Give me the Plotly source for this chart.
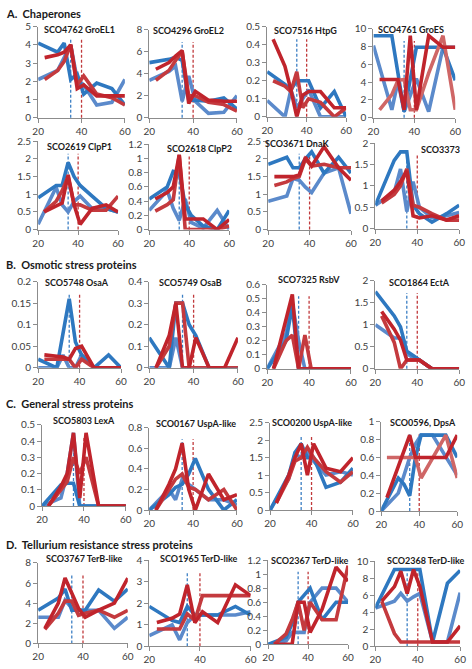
import plotly.graph_objects as go

W, H = 472, 669

# ---------------- data ----------------
XB = [20, 29, 32, 35, 38, 41, 47, 54, 60]
XR = [23, 29, 32, 35, 38, 41, 47, 54, 60]
SHIFT_BLUE = 35
SHIFT_RED = 40

SECTIONS = ["A.  Chaperones", "B.  Osmotic stress proteins",
            "C.  General stress proteins", "D.  Tellurium resistance stress proteins"]

TITLES = ["SCO4762 GroEL1", "SCO4296 GroEL2", "SCO7516 HtpG", "SCO4761 GroES",
          "SCO2619 ClpP1", "SCO2618 ClpP2", "SCO3671 DnaK", "SCO3373",
          "SCO5748 OsaA", "SCO5749 OsaB", "SCO7325 RsbV", "SCO1864 EctA",
          "SCO5803 LexA", "SCO0167 UspA-like", "SCO0200 UspA-like", "SCO0596, DpsA",
          "SCO3767 TerB-like", "SCO1965 TerD-like", "SCO2367 TerD-like", "SCO2368 TerD-like"]
YMAX = [5, 8, 0.5, 10, 2.5, 1.2, 2.5, 2, 0.2, 0.4, 0.6, 2, 0.5, 0.8, 2.5, 1, 8, 4, 1.2, 10]
YSTEP = [1, 2, 0.1, 2, 0.5, 0.2, 0.5, 0.5, 0.05, 0.1, 0.1, 0.5, 0.1, 0.2, 0.5, 0.2, 2, 1, 0.2, 2]

GROEL1_B1 = [4.1, 3.6, 4.1, 2.1, 2.4, 1.3, 1.9, 1.6, 0.7]
GROEL1_B2 = [2.1, 2.6, 3.3, 4.0, 2.1, 1.8, 0.7, 0.85, 2.1]
GROEL1_R1 = [3.3, 3.45, 3.6, 4.0, 1.6, 1.8, 1.2, 1.2, 1.2]
GROEL1_R2 = [2.1, 2.6, 3.1, 4.0, 1.8, 2.3, 1.3, 1.1, 0.7]

GROEL2_B1 = [5.0, 5.3, 5.5, 5.2, 1.6, 1.6, 1.5, 1.8, 0.8]
GROEL2_B2 = [3.4, 4.2, 4.7, 1.5, 3.8, 1.5, 0.4, 0.5, 2.0]
GROEL2_R1 = [4.4, 5.0, 5.6, 6.1, 1.3, 2.4, 1.6, 1.5, 1.5]
GROEL2_R2 = [3.4, 4.3, 5.2, 6.0, 2.0, 2.0, 1.4, 1.2, 0.6]

HTPG_B1 = [0.25, 0.18, 0.15, 0.2, 0.2, 0.2, 0.05, 0.14, 0.0]
HTPG_B2 = [0.09, 0.0, 0.15, 0.05, 0.1, 0.15, 0.0, 0.0, 0.0]
HTPG_R1 = [0.43, 0.28, 0.15, 0.0, 0.12, 0.14, 0.14, 0.05, 0.05]
HTPG_R2 = [0.2, 0.17, 0.14, 0.25, 0.05, 0.1, 0.08, 0.0, 0.05]

GROES_B1 = [9.2, 9.2, 5.0, 0.7, 4.3, 7.9, 7.9, 7.9, 4.2]
GROES_B2 = [8.1, 0.9, 4.1, 0.7, 2.5, 4.4, 0.7, 7.9, 7.9]
GROES_R1 = [4.3, 4.3, 4.3, 0.9, 9.2, 0.9, 9.2, 7.9, 7.9]
GROES_R2 = [0.9, 2.6, 4.2, 4.3, 0.9, 0.9, 5.0, 9.2, 0.9]

CLPP1_B1 = [0.9, 1.25, 1.25, 1.9, 1.5, 1.25, 0.95, 0.6, 0.5]
CLPP1_B2 = [0.15, 1.2, 0.7, 0.5, 0.8, 0.95, 0.6, 0.6, 0.5]
CLPP1_R1 = [0.5, 0.65, 0.75, 1.55, 0.7, 0.15, 0.6, 0.7, 0.5]
CLPP1_R2 = [0.5, 0.8, 1.1, 1.5, 0.7, 0.7, 0.55, 0.55, 0.95]

CLPP2_B1 = [0.43, 0.6, 0.82, 0.8, 0.35, 0.2, 0.05, 0.0, 0.27]
CLPP2_B2 = [0.27, 0.55, 0.3, 0.13, 0.43, 0.1, 0.02, 0.27, 0.0]
CLPP2_R1 = [0.43, 0.52, 0.6, 1.05, 0.15, 0.15, 0.15, 0.0, 0.14]
CLPP2_R2 = [0.26, 0.35, 0.42, 1.05, 0.0, 0.0, 0.0, 0.0, 0.05]

DNAK_B1 = [1.85, 2.05, 1.75, 1.75, 2.0, 2.2, 1.6, 2.05, 1.6]
DNAK_B2 = [0.8, 0.95, 1.45, 1.4, 1.2, 1.05, 1.6, 1.75, 0.45]
DNAK_R1 = [1.5, 1.5, 1.5, 1.55, 2.05, 1.8, 2.35, 1.75, 1.4]
DNAK_R2 = [1.25, 1.35, 1.45, 1.5, 2.0, 1.8, 1.85, 1.75, 1.75]

S3373_B1 = [0.55, 1.6, 1.8, 1.8, 0.55, 0.35, 0.15, 0.35, 0.55]
S3373_B2 = [0.55, 0.85, 1.4, 0.4, 1.1, 0.5, 0.25, 0.3, 0.38]
S3373_R1 = [0.65, 0.9, 1.1, 1.35, 0.3, 0.25, 0.3, 0.2, 0.3]
S3373_R2 = [0.6, 0.8, 1.0, 1.4, 0.55, 0.5, 0.35, 0.2, 0.2]

OSAA_B1 = [0.02, 0.0, 0.08, 0.16, 0.06, 0.03, 0.0, 0.03, 0.0]
OSAA_B2 = [0.0, 0.0, 0.03, 0.0, 0.0, 0.03, 0.0, 0.0, 0.0]
OSAA_R1 = [0.03, 0.027, 0.025, 0.02, 0.045, 0.05, 0.0, 0.0, 0.0]
OSAA_R2 = [0.02, 0.02, 0.02, 0.02, 0.0, 0.02, 0.0, 0.0, 0.0]

OSAB_B1 = [0.14, 0.0, 0.3, 0.3, 0.2, 0.15, 0.0, 0.0, 0.0]
OSAB_B2 = [0.0, 0.0, 0.14, 0.0, 0.0, 0.0, 0.0, 0.0, 0.0]
OSAB_R1 = [0.0, 0.15, 0.3, 0.0, 0.0, 0.14, 0.0, 0.0, 0.14]
OSAB_R2 = [0.0, 0.1, 0.3, 0.3, 0.0, 0.0, 0.0, 0.0, 0.0]

RSBV_B1 = [0.0, 0.2, 0.45, 0.0, 0.0, 0.0, 0.0, 0.0, 0.0]
RSBV_B2 = [0.0, 0.25, 0.47, 0.2, 0.0, 0.0, 0.0, 0.0, 0.0]
RSBV_R1 = [0.0, 0.35, 0.53, 0.0, 0.0, 0.0, 0.0, 0.0, 0.0]
RSBV_R2 = [0.0, 0.2, 0.24, 0.0, 0.24, 0.0, 0.0, 0.0, 0.0]

ECTA_B1 = [1.75, 1.2, 0.95, 0.4, 0.3, 0.2, 0.0, 0.0, 0.0]
ECTA_B2 = [1.0, 0.7, 0.7, 0.35, 0.25, 0.2, 0.0, 0.0, 0.0]
ECTA_R1 = [1.3, 0.9, 0.65, 0.2, 0.2, 0.2, 0.0, 0.0, 0.0]
ECTA_R2 = [1.2, 0.6, 0.0, 0.2, 0.2, 0.2, 0.0, 0.0, 0.0]

LEXA_B1 = [0.0, 0.13, 0.14, 0.14, 0.0, 0.0, 0.0, 0.0, 0.0]
LEXA_B2 = [0.0, 0.05, 0.2, 0.45, 0.0, 0.0, 0.0, 0.0, 0.0]
LEXA_R1 = [0.0, 0.12, 0.2, 0.45, 0.05, 0.45, 0.0, 0.0, 0.0]
LEXA_R2 = [0.0, 0.1, 0.15, 0.3, 0.2, 0.3, 0.0, 0.0, 0.0]

U0167_B1 = [0.0, 0.15, 0.22, 0.25, 0.35, 0.5, 0.2, 0.0, 0.1]
U0167_B2 = [0.0, 0.2, 0.1, 0.3, 0.25, 0.2, 0.1, 0.1, 0.05]
U0167_R1 = [0.0, 0.25, 0.4, 0.65, 0.2, 0.0, 0.35, 0.1, 0.15]
U0167_R2 = [0.0, 0.2, 0.3, 0.35, 0.22, 0.2, 0.1, 0.2, 0.0]

U0200_B1 = [0.0, 1.0, 1.65, 1.9, 1.5, 1.5, 0.65, 0.8, 1.2]
U0200_B2 = [0.0, 0.9, 1.6, 1.5, 1.65, 1.4, 1.0, 1.1, 1.0]
U0200_R1 = [0.2, 1.0, 1.5, 1.9, 1.0, 1.9, 1.2, 1.1, 1.5]
U0200_R2 = [0.2, 0.9, 1.4, 1.5, 1.8, 1.5, 1.1, 0.8, 1.1]

DPSA_B1 = [0.0, 0.37, 0.3, 0.17, 0.6, 0.85, 0.85, 0.85, 0.6]
DPSA_B2 = [0.0, 0.2, 0.4, 0.6, 0.75, 0.85, 0.85, 0.6, 0.4]
DPSA_R1 = [0.15, 0.5, 0.7, 0.85, 0.6, 0.6, 0.6, 0.6, 0.85]
DPSA_R2 = [0.6, 0.6, 0.6, 0.6, 0.6, 0.37, 0.6, 0.85, 0.37]

TERB_B1 = [3.3, 4.5, 5.4, 3.3, 3.3, 3.3, 5.3, 4.2, 5.4]
TERB_B2 = [2.6, 2.6, 4.3, 3.5, 3.3, 3.3, 3.3, 1.5, 2.6]
TERB_R1 = [1.5, 4.0, 6.5, 5.0, 3.5, 2.6, 3.3, 4.0, 6.5]
TERB_R2 = [1.4, 3.0, 4.2, 4.2, 2.8, 3.0, 3.3, 2.6, 3.3]

T1965_B1 = [1.85, 1.2, 1.1, 1.85, 1.45, 1.45, 1.45, 1.85, 1.45]
T1965_B2 = [0.5, 1.0, 0.3, 1.1, 1.45, 1.45, 1.45, 1.45, 1.6]
T1965_R1 = [1.1, 1.3, 1.5, 2.85, 1.1, 1.6, 1.1, 2.85, 2.35]
T1965_R2 = [0.8, 0.8, 0.8, 1.5, 1.2, 2.35, 2.35, 2.35, 2.35]

T2367_B1 = [0.0, 0.1, 0.3, 0.6, 0.7, 0.8, 0.35, 0.6, 0.6]
T2367_B2 = [0.0, 0.05, 0.17, 0.17, 0.17, 0.6, 0.8, 0.8, 0.6]
T2367_R1 = [0.0, 0.0, 0.0, 0.6, 0.6, 0.17, 0.5, 1.1, 0.9]
T2367_R2 = [0.0, 0.15, 0.35, 0.6, 0.2, 0.6, 0.35, 0.35, 1.12]

T2368_B1 = [4.5, 9.0, 9.0, 9.0, 9.0, 9.0, 0.5, 7.4, 8.9]
T2368_B2 = [4.5, 5.3, 6.2, 5.3, 5.8, 6.2, 0.5, 0.5, 6.3]
T2368_R1 = [5.3, 7.0, 8.8, 6.2, 9.0, 7.0, 0.5, 0.5, 2.4]
T2368_R2 = [5.3, 1.5, 0.5, 0.5, 0.5, 0.5, 0.5, 0.5, 0.5]

SERIES = [
    (GROEL1_B1, GROEL1_B2, GROEL1_R1, GROEL1_R2),
    (GROEL2_B1, GROEL2_B2, GROEL2_R1, GROEL2_R2),
    (HTPG_B1, HTPG_B2, HTPG_R1, HTPG_R2),
    (GROES_B1, GROES_B2, GROES_R1, GROES_R2),
    (CLPP1_B1, CLPP1_B2, CLPP1_R1, CLPP1_R2),
    (CLPP2_B1, CLPP2_B2, CLPP2_R1, CLPP2_R2),
    (DNAK_B1, DNAK_B2, DNAK_R1, DNAK_R2),
    (S3373_B1, S3373_B2, S3373_R1, S3373_R2),
    (OSAA_B1, OSAA_B2, OSAA_R1, OSAA_R2),
    (OSAB_B1, OSAB_B2, OSAB_R1, OSAB_R2),
    (RSBV_B1, RSBV_B2, RSBV_R1, RSBV_R2),
    (ECTA_B1, ECTA_B2, ECTA_R1, ECTA_R2),
    (LEXA_B1, LEXA_B2, LEXA_R1, LEXA_R2),
    (U0167_B1, U0167_B2, U0167_R1, U0167_R2),
    (U0200_B1, U0200_B2, U0200_R1, U0200_R2),
    (DPSA_B1, DPSA_B2, DPSA_R1, DPSA_R2),
    (TERB_B1, TERB_B2, TERB_R1, TERB_R2),
    (T1965_B1, T1965_B2, T1965_R1, T1965_R2),
    (T2367_B1, T2367_B2, T2367_R1, T2367_R2),
    (T2368_B1, T2368_B2, T2368_R1, T2368_R2),
]

# ---------------- layout / style ----------------
GEOM = [  # plot area in px: x-left, x-right, y-top, y-bottom
    (33, 122, 20, 113), (147, 237, 23, 113), (268, 349, 20, 112), (377, 461, 22, 113),
    (33, 115, 137, 227), (147, 229, 140, 227), (269, 354, 137, 227), (379, 465, 139, 226),
    (33, 118, 280, 368), (147, 238, 280, 368), (268, 354, 283, 369), (379, 465, 279, 369),
    (37, 123, 426, 509), (147, 237, 429, 513), (271, 356, 424, 513), (385, 463, 423, 514),
    (33, 125, 567, 649), (147, 251, 564, 652), (269, 351, 564, 650), (379, 466, 565, 652),
]
TPOS = [
    (75, 23), (187, 24), (307, 24), (416, 23),
    (75, 142), (199, 144), (299, 139), (446, 145),
    (73, 281), (189, 281), (311, 278), (424, 281),
    (80, 422), (195, 425), (314, 424), (428, 424),
    (81, 562), (198, 562), (312, 564), (431, 564),
]
SPOS = [(-2, 7), (-2, 263), (-2, 404), (-2, 548)]

BLUE1 = "#2E78C0"
BLUE2 = "#5B8ACB"
RED1 = "#C0242C"
RED2 = "#C43A3E"
RED_LIGHT = "#CF6666"
AX = "#8C8C8C"
FONT = "Lato"

fig = go.Figure()
shapes = []
annotations = []

for i, (series, geom) in enumerate(zip(SERIES, GEOM)):
    n = i + 1
    xa = "x" if n == 1 else f"x{n}"
    ya = "y" if n == 1 else f"y{n}"
    xl, xr, yt, yb = geom
    b1, b2, r1, r2 = series
    r2col = RED_LIGHT if TITLES[i] in ("SCO4761 GroES", "SCO0596, DpsA") else RED2
    for xs, ys, col in ((XB, b2, BLUE2), (XB, b1, BLUE1), (XR, r2, r2col), (XR, r1, RED1)):
        fig.add_trace(go.Scatter(x=xs, y=ys, mode="lines", xaxis=xa, yaxis=ya,
                                 line=dict(color=col, width=3.6), showlegend=False,
                                 hoverinfo="skip"))
    axcommon = dict(showline=True, linecolor=AX, linewidth=1, ticks="outside",
                    ticklen=4, tickcolor=AX, showgrid=False, zeroline=False,
                    tickfont=dict(family=FONT, size=10, color="#404040"), fixedrange=True)
    fig.layout[f"xaxis{'' if n == 1 else n}"] = dict(
        domain=[xl / W, xr / W], anchor=ya, range=[20, 60], tickvals=[20, 40, 60],
        **axcommon)
    fig.layout[f"yaxis{'' if n == 1 else n}"] = dict(
        domain=[1 - yb / H, 1 - yt / H], anchor=xa, range=[0, YMAX[i]],
        dtick=YSTEP[i], tick0=0, **axcommon)
    for xv, col in ((SHIFT_BLUE, "#3C7FC4"), (SHIFT_RED, "#C0393B")):
        shapes.append(dict(type="line", xref=xa, yref=f"{ya} domain", x0=xv, x1=xv,
                           y0=0, y1=0.86, layer="below",
                           line=dict(color=col, width=1.3, dash="3px,2px")))
    cx, cy = TPOS[i]
    annotations.append(dict(text=f"<b>{TITLES[i]}</b>", xref="paper", yref="paper",
                            x=cx / W, y=1 - cy / H, xanchor="center", yanchor="middle",
                            showarrow=False, font=dict(family=FONT, size=9, color="#1a1a1a")))

for s, (sx, sy) in zip(SECTIONS, SPOS):
    annotations.append(dict(text=f"<b>{s}</b>", xref="paper", yref="paper",
                            x=sx / W, y=1 - sy / H, xanchor="left", yanchor="middle",
                            showarrow=False, font=dict(family=FONT, size=11, color="#1a1a1a")))

fig.update_layout(width=W, height=H, margin=dict(l=0, r=0, t=0, b=0),
                  paper_bgcolor="white", plot_bgcolor="white",
                  shapes=shapes, annotations=annotations, showlegend=False)

fig.write_html("out.html", config={"displayModeBar": False},
               post_script="document.body.style.margin='0';document.body.style.padding='0';")
